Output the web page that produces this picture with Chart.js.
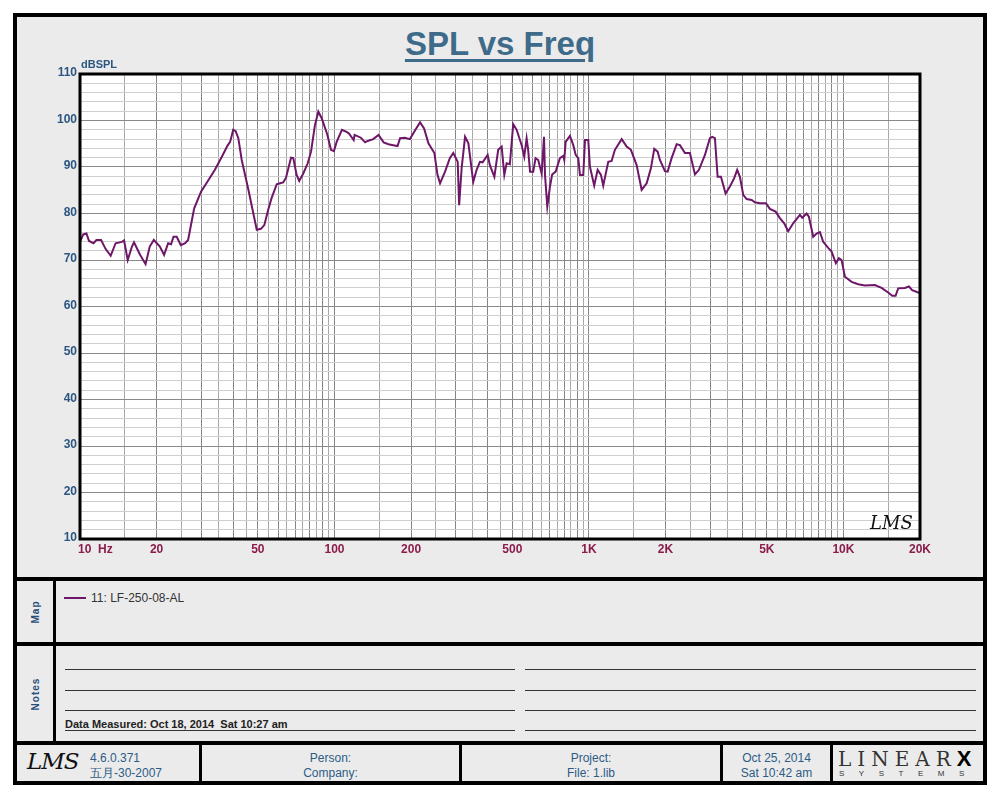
<!DOCTYPE html>
<html>
<head>
<meta charset="utf-8">
<script src="https://cdn.jsdelivr.net/npm/chart.js@4.4.1/dist/chart.umd.min.js"></script>
<style>
  body { margin: 0; width: 1000px; height: 800px; background: #fff; position: relative; overflow: hidden;
         font-family: "Liberation Sans", Arial, sans-serif; }
  .abs { position: absolute; }
  #frame { left: 13px; top: 13px; width: 966px; height: 764px; border: 4px solid #000; background: #ebebeb; }
  .bar { position: absolute; background: #000; }
  .thin { position: absolute; background: #333; height: 1px; }
  #title { left: 0; width: 1000px; top: 25px; text-align: center; font-size: 33px; font-weight: bold;
           color: #3e6b8a; }
  #title span { text-decoration: underline; text-decoration-thickness: 3px; text-underline-offset: 4px; }
  .side { position: absolute; left: 35px; font-size: 10px; font-weight: bold; color: #2a4e7a;
          transform: translate(-50%, -50%) rotate(-90deg); letter-spacing: 1px; }
  .foot { position: absolute; font-family: "Liberation Sans Narrow", "Liberation Sans", Arial, sans-serif;
          font-size: 12px; color: #2d5b86; text-align: center; line-height: 15px; }
  #chartBox { left: 20px; top: 60px; width: 940px; height: 510px; }
</style>
</head>
<body>
<div id="frame" class="abs"></div>
<div id="title" class="abs"><span>SPL vs Freq</span></div>

<div id="chartBox" class="abs"><canvas id="spl" width="940" height="510"></canvas></div>

<!-- panel separators -->
<div class="bar" style="left:13px; top:577px; width:974px; height:4px;"></div>
<div class="bar" style="left:13px; top:642px; width:974px; height:4px;"></div>
<div class="bar" style="left:13px; top:741px; width:974px; height:4px;"></div>
<div class="bar" style="left:53px; top:581px; width:3px; height:160px;"></div>

<!-- map -->
<div class="side" style="top:612px;">Map</div>
<div class="abs" style="left:64px; top:597px; width:22px; height:2px; background:#6e1768;"></div>
<div class="abs" style="left:91px; top:591px; font-size:12px; color:#333;">11: LF-250-08-AL</div>

<!-- notes -->
<div class="side" style="top:694px;">Notes</div>
<div class="thin" style="left:65px; top:669px; width:450px;"></div>
<div class="thin" style="left:65px; top:690px; width:450px;"></div>
<div class="thin" style="left:65px; top:710px; width:450px;"></div>
<div class="thin" style="left:65px; top:730px; width:450px;"></div>
<div class="thin" style="left:525px; top:669px; width:451px;"></div>
<div class="thin" style="left:525px; top:690px; width:451px;"></div>
<div class="thin" style="left:525px; top:710px; width:451px;"></div>
<div class="thin" style="left:525px; top:730px; width:451px;"></div>
<div class="abs" style="left:65px; top:718px; font-family:'Liberation Sans Narrow','Liberation Sans',Arial,sans-serif; font-size:11px; font-weight:bold; color:#222;">Data Measured: Oct 18, 2014&nbsp; Sat 10:27 am</div>

<!-- footer -->
<div class="bar" style="left:199px; top:745px; width:3px; height:36px;"></div>
<div class="bar" style="left:459px; top:745px; width:3px; height:36px;"></div>
<div class="bar" style="left:720px; top:745px; width:3px; height:36px;"></div>
<div class="bar" style="left:830px; top:745px; width:3px; height:36px;"></div>
<div class="abs" style="left:27px; top:748px; font-family:'DejaVu Serif',serif; font-style:italic; font-size:23px; color:#111; letter-spacing:-1px;">LMS</div>
<div class="foot" style="left:90px; top:751px; text-align:left;">4.6.0.371<br>五月-30-2007</div>
<div class="foot" style="left:202px; width:257px; top:751px;">Person:<br>Company:</div>
<div class="foot" style="left:462px; width:258px; top:751px;">Project:<br>File: 1.lib</div>
<div class="foot" style="left:723px; width:107px; top:751px;">Oct 25, 2014<br>Sat 10:42 am</div>
<div class="abs" style="left:838px; top:746px; font-family:'DejaVu Serif',serif; font-size:20px; color:#333; letter-spacing:6px;">LINEAR<span style="font-family:'Liberation Sans',Arial,sans-serif; font-weight:bold; color:#000; font-size:22px; letter-spacing:0;">X</span></div>
<div class="abs" style="left:839px; top:769px; font-size:8px; color:#333; letter-spacing:14.5px;">SYSTEMS</div>

<script>
const freqs = [
  10.0, 10.3, 10.6, 10.85, 11.3, 11.6, 12.1, 12.6, 13.2, 13.8, 14.6, 14.9, 15.4, 16.0, 16.3, 17.2, 18.1, 18.8, 19.5,
  20.6, 21.4, 22.2, 22.8, 23.3, 24.0, 24.9, 25.9, 26.6, 28.1, 29.9, 31.8, 33.9, 36.1, 38.0, 38.9, 40.0, 40.9, 41.9,
  43.2, 45.9, 48.0, 49.5, 51.4, 53.0, 54.9, 56.6, 59.3, 61.1, 62.9, 64.5, 67.5, 68.9, 71.0, 72.7, 75.4, 78.5, 80.9,
  83.8, 86.4, 89.1, 93.7, 96.9, 99.5, 102, 107, 112, 114, 119, 120, 127, 132, 135, 142, 149, 152, 156, 163, 170,
  177, 181, 189, 198, 208, 217, 225, 234, 247, 254, 260, 272, 284, 293, 300, 305, 309, 316, 326, 336, 351, 362,
  373, 382, 400, 408, 425, 440, 454, 465, 475, 489, 504, 520, 544, 557, 569, 577, 587, 604, 617, 632, 652, 666,
  672, 686, 703, 717, 740, 769, 793, 800, 810, 842, 868, 887, 908, 922, 950, 965, 994, 1009, 1049, 1082, 1115,
  1138, 1191, 1228, 1265, 1345, 1407, 1462, 1540, 1611, 1686, 1752, 1806, 1862, 1901, 1989, 2039, 2113, 2212,
  2278, 2384, 2494, 2610, 2706, 2857, 2988, 3052, 3127, 3204, 3302, 3444, 3581, 3723, 3825, 3920, 4040, 4165,
  4358, 4490, 4698, 4961, 5143, 5415, 5629, 5852, 6067, 6350, 6746, 6888, 7169, 7319, 7610, 7849, 8087, 8330,
  8716, 8987, 9344, 9601, 9838, 10137, 10771, 11434, 12148, 13297, 14126, 14996, 15552, 16036, 16418, 17445,
  18088, 18634, 19678, 20000
];
const spl = [
  73.9, 75.5, 75.7, 74.1, 73.6, 74.3, 74.3, 72.4, 70.9, 73.6, 73.9, 74.2, 70.0, 72.9, 73.8, 71.2, 69.1, 72.9, 74.3,
  72.9, 71.1, 73.6, 73.4, 75.0, 75.0, 73.2, 73.6, 74.3, 81.1, 84.7, 87.0, 89.4, 92.2, 94.6, 95.4, 98.0, 97.7, 96.2,
  91.5, 85.1, 80.0, 76.5, 76.7, 77.5, 80.8, 83.3, 86.3, 86.5, 86.7, 87.7, 92.0, 91.9, 88.3, 87.0, 88.6, 90.8, 93.3,
  99.0, 101.9, 100.5, 97.0, 93.7, 93.4, 95.4, 98.0, 97.5, 97.2, 95.8, 96.9, 96.3, 95.3, 95.6, 96.0, 96.9, 96.2, 95.3, 94.9, 94.7,
  94.5, 96.2, 96.3, 96.0, 98.0, 99.6, 98.3, 95.1, 93.0, 88.3, 86.5, 89.0, 91.9, 93.0, 91.9, 91.1, 81.8, 89.7, 96.5, 95.1, 86.8, 89.4,
  91.1, 91.0, 92.6, 90.4, 87.9, 93.7, 94.4, 88.3, 90.8, 90.6, 99.2, 98.0, 94.7, 92.2, 96.2, 93.7, 89.0, 89.0, 91.9, 91.5, 88.6, 96.5,
  88.3, 81.5, 85.8, 88.4, 89.0, 91.9, 92.4, 91.5, 95.4, 96.7, 94.7, 92.6, 91.9, 88.3, 88.3, 95.8, 95.8, 90.1, 86.0, 89.4, 88.3,
  86.0, 91.1, 91.3, 93.7, 96.0, 94.4, 93.7, 90.4, 85.1, 86.5, 89.7, 93.9, 93.3, 91.5, 89.1, 89.0, 91.9, 94.9,
  94.7, 93.0, 93.0, 88.4, 89.4, 92.6, 96.2, 96.5, 96.2, 87.9, 87.9, 84.3, 85.8, 87.6, 89.4, 87.9, 84.0, 83.1,
  82.9, 82.4, 82.2, 82.2, 81.0, 80.4, 79.0, 77.9, 76.2, 77.9, 79.7, 79.1, 80.0, 79.3, 75.0, 75.7, 76.0, 73.9,
  72.6, 71.8, 69.3, 70.4, 70.0, 66.4, 65.3, 64.8, 64.5, 64.6, 64.0, 63.0, 62.3, 62.3, 63.9, 64.0,
  64.3, 63.5, 63.0, 62.9
];

// axis labels
const yTicks = [10, 20, 30, 40, 50, 60, 70, 80, 90, 100, 110];
const xLabelValues = [20, 50, 100, 200, 500, 1000, 2000, 5000, 10000, 20000];
const xLabelText = ['20', '50', '100', '200', '500', '1K', '2K', '5K', '10K', '20K'];

// grid: 5/50/500/5000 steps per decade, 2 dB horizontally
const xGrid = [];
[[10, 100, 5], [100, 1000, 50], [1000, 10000, 500], [10000, 20000, 5000]].forEach(([a, b, step]) => {
  for (let v = a; v < b; v += step) xGrid.push(v);
});
xGrid.push(20000);
const yGrid = [];
for (let v = 10; v <= 110; v += 2) yGrid.push(v);

const blue = '#2c5680';
const red = '#8c1c4c';

const framePlugin = {
  id: 'frame',
  beforeDraw(chart) {
    const { ctx, chartArea: a } = chart;
    ctx.save();
    ctx.fillStyle = '#fff';
    ctx.fillRect(a.left, a.top, a.right - a.left, a.bottom - a.top);
    ctx.restore();
  },
  afterDraw(chart) {
    const { ctx, chartArea: a, scales } = chart;
    ctx.save();
    ctx.strokeStyle = '#000';
    ctx.lineWidth = 3;
    ctx.strokeRect(a.left, a.top, a.right - a.left, a.bottom - a.top);

    // y labels
    ctx.font = 'bold 12px "Liberation Sans", Arial, sans-serif';
    ctx.fillStyle = blue;
    ctx.textAlign = 'right';
    ctx.textBaseline = 'middle';
    yTicks.forEach(v => ctx.fillText(String(v), a.left - 3, scales.y.getPixelForValue(v) - 1));

    ctx.font = 'bold 11px "Liberation Sans", Arial, sans-serif';
    ctx.textAlign = 'left';
    ctx.fillText('dBSPL', a.left + 1, a.top - 9);

    // x labels
    ctx.font = 'bold 12px "Liberation Sans", Arial, sans-serif';
    ctx.fillStyle = red;
    ctx.textAlign = 'left';
    ctx.fillText('10  Hz', a.left - 2, a.bottom + 11);
    ctx.textAlign = 'center';
    xLabelValues.forEach((v, i) => ctx.fillText(xLabelText[i], scales.x.getPixelForValue(v), a.bottom + 11));

    // LMS mark
    ctx.font = 'italic 18px "DejaVu Serif", serif';
    ctx.fillStyle = '#111';
    ctx.textAlign = 'left';
    ctx.textBaseline = 'alphabetic';
    ctx.fillText('LMS', a.right - 50, a.bottom - 10);
    ctx.restore();
  }
};

new Chart(document.getElementById('spl'), {
  type: 'line',
  data: {
    datasets: [{
      label: '11: LF-250-08-AL',
      data: freqs.map((f, i) => ({ x: f, y: spl[i] })),
      borderColor: '#6e1768',
      borderWidth: 2,
      pointRadius: 0,
      tension: 0
    }]
  },
  options: {
    responsive: false,
    animation: false,
    devicePixelRatio: 1,
    layout: { padding: { left: 60, right: 40, top: 14, bottom: 31 } },
    plugins: { legend: { display: false }, tooltip: { enabled: false } },
    scales: {
      x: {
        type: 'logarithmic',
        min: 10,
        max: 20000,
        afterBuildTicks: (s) => { s.ticks = xGrid.map(v => ({ value: v })); },
        ticks: { display: false },
        border: { display: false },
        grid: {
          drawTicks: false,
          lineWidth: 1,
          color: (c) => {
            const v = c.tick ? c.tick.value : 0;
            const dec = Math.pow(10, Math.floor(Math.log10(v) + 1e-9));
            return Math.abs(v / dec - Math.round(v / dec)) < 1e-6 ? '#858585' : '#a8a8a8';
          }
        }
      },
      y: {
        min: 10,
        max: 110,
        afterBuildTicks: (s) => { s.ticks = yGrid.map(v => ({ value: v })); },
        ticks: { display: false },
        border: { display: false },
        grid: {
          drawTicks: false,
          lineWidth: 1,
          color: (c) => (c.tick && c.tick.value % 10 === 0 ? '#8a8a8a' : '#cfcfcf')
        }
      }
    }
  },
  plugins: [framePlugin]
});
</script>
</body>
</html>
